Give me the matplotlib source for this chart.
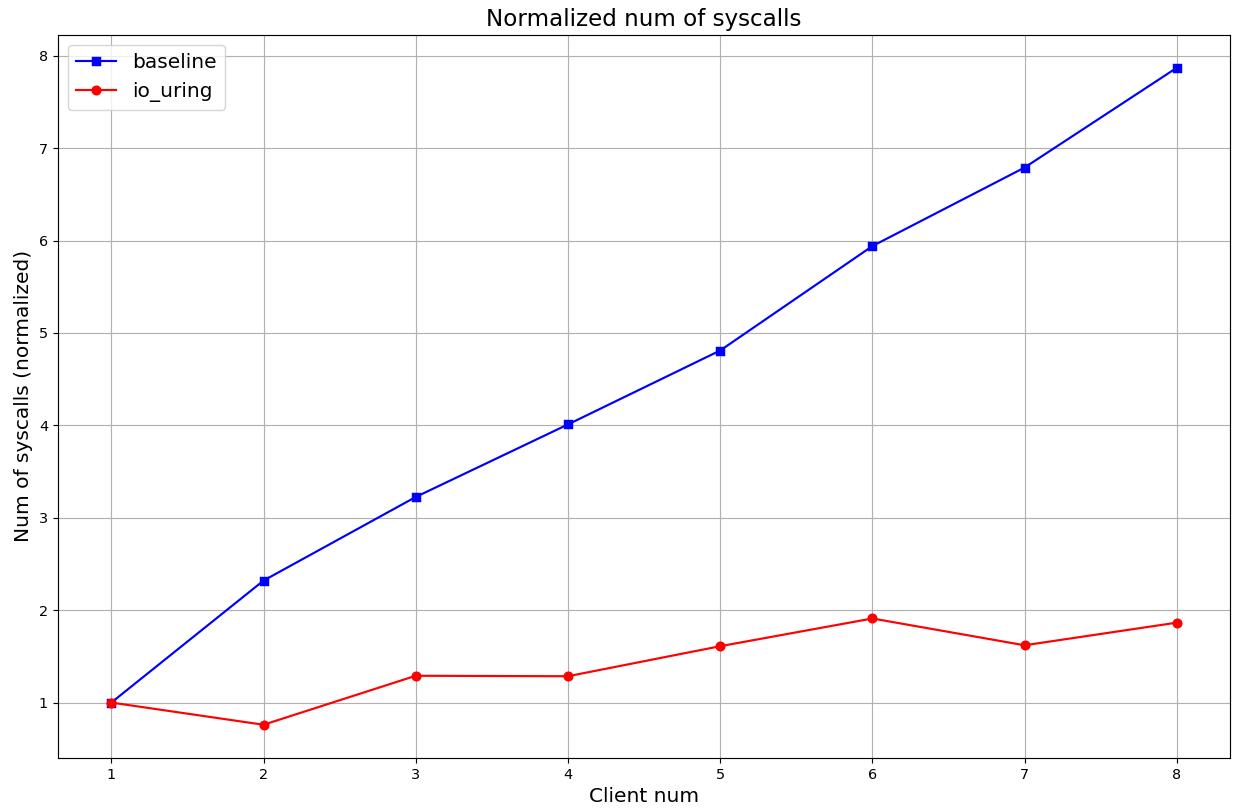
import matplotlib.pyplot as plt

# Dados
clientes = [1, 2, 3, 4, 5, 6, 7, 8]
baseline = [1.0, 2.32, 3.225, 4.01, 4.81, 5.94, 6.79, 7.87]
io_uring = [1.0, 0.76, 1.29, 1.285, 1.61, 1.91, 1.62, 1.865]

DPI = 103.5
plt.figure(figsize=(1235 / DPI, 812 / DPI), dpi=DPI)
plt.plot(clientes, baseline, marker='s', linestyle='-', color='blue', label='baseline')
plt.plot(clientes, io_uring, marker='o', linestyle='-', color='red', label='io_uring')

plt.title("Normalized num of syscalls", fontsize=16)
plt.xlabel("Client num", fontsize=14)
plt.ylabel("Num of syscalls (normalized)", fontsize=14)
plt.legend(fontsize=14)
plt.grid(True)
plt.subplots_adjust(left=0.047, right=0.996, top=0.957, bottom=0.067)
plt.savefig("out.png", dpi=DPI)
plt.close()
